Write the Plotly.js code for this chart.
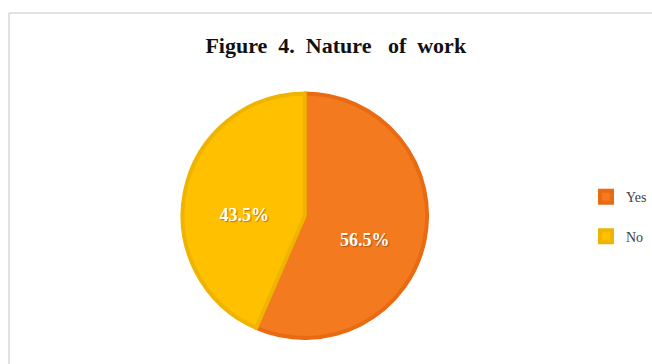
<!DOCTYPE html>
<html>
<head>
<meta charset="utf-8">
<script src="https://cdn.plot.ly/plotly-3.0.1.min.js"></script>
<style>html,body{margin:0;padding:0;background:#fff;}#chart{width:652px;height:364px;}</style>
</head>
<body>
<div id="chart"></div>
<script>
const categories = ["Yes", "No"];
const shares = [56.5, 43.5];
const fillColors = ["#F47A20", "#FFC000"];
const edgeColors = ["#EA6A12", "#EFB400"];
const chartTitle = "Figure&nbsp; 4.&nbsp; Nature&nbsp;&nbsp; of&nbsp; work";

const trace = {
  type: "pie",
  labels: categories.map(c => c + "<br> "),
  values: shares,
  sort: false,
  direction: "clockwise",
  rotation: 0,
  marker: { colors: fillColors, line: { color: edgeColors, width: 4 } },
  texttemplate: "&nbsp;<br>%{value:.1f}%",
  textposition: "inside",
  insidetextorientation: "horizontal",
  textfont: { family: "Liberation Serif, Times New Roman, serif", size: 18, color: "#ffffff", weight: "bold", shadow: "1px 1px 1px rgba(90,40,0,0.45)" },
  hoverinfo: "label+percent",
  domain: { x: [0.28, 0.655], y: [0.07, 0.745] }
};

const layout = {
  width: 652, height: 364,
  margin: { l: 0, r: 0, t: 0, b: 0 },
  paper_bgcolor: "#ffffff",
  title: {
    text: "<b>" + chartTitle + "</b>",
    font: { family: "Liberation Serif, Times New Roman, serif", size: 22, color: "#111111" },
    x: 0.515, xanchor: "center", y: 0.876, yanchor: "middle"
  },
  showlegend: true,
  legend: {
    x: 0.899, xanchor: "left", y: 0.38, yanchor: "middle",
    valign: "top",
    font: { family: "Liberation Serif, Times New Roman, serif", size: 14, color: "#404040" },
    itemwidth: 30,
    bgcolor: "rgba(0,0,0,0)"
  },
  shapes: [
    { type: "line", xref: "paper", yref: "paper", x0: 0.0138, x1: 1.01, y0: 1 - 13/364, y1: 1 - 13/364, line: { color: "#d9d9d9", width: 1.5 } },
    { type: "line", xref: "paper", yref: "paper", x0: 0.0138, x1: 0.0138, y0: 1 - 13/364, y1: -0.01, line: { color: "#d9d9d9", width: 1.5 } }
  ]
};

Plotly.newPlot("chart", [trace], layout, { staticPlot: true, displayModeBar: false });
</script>
</body>
</html>
